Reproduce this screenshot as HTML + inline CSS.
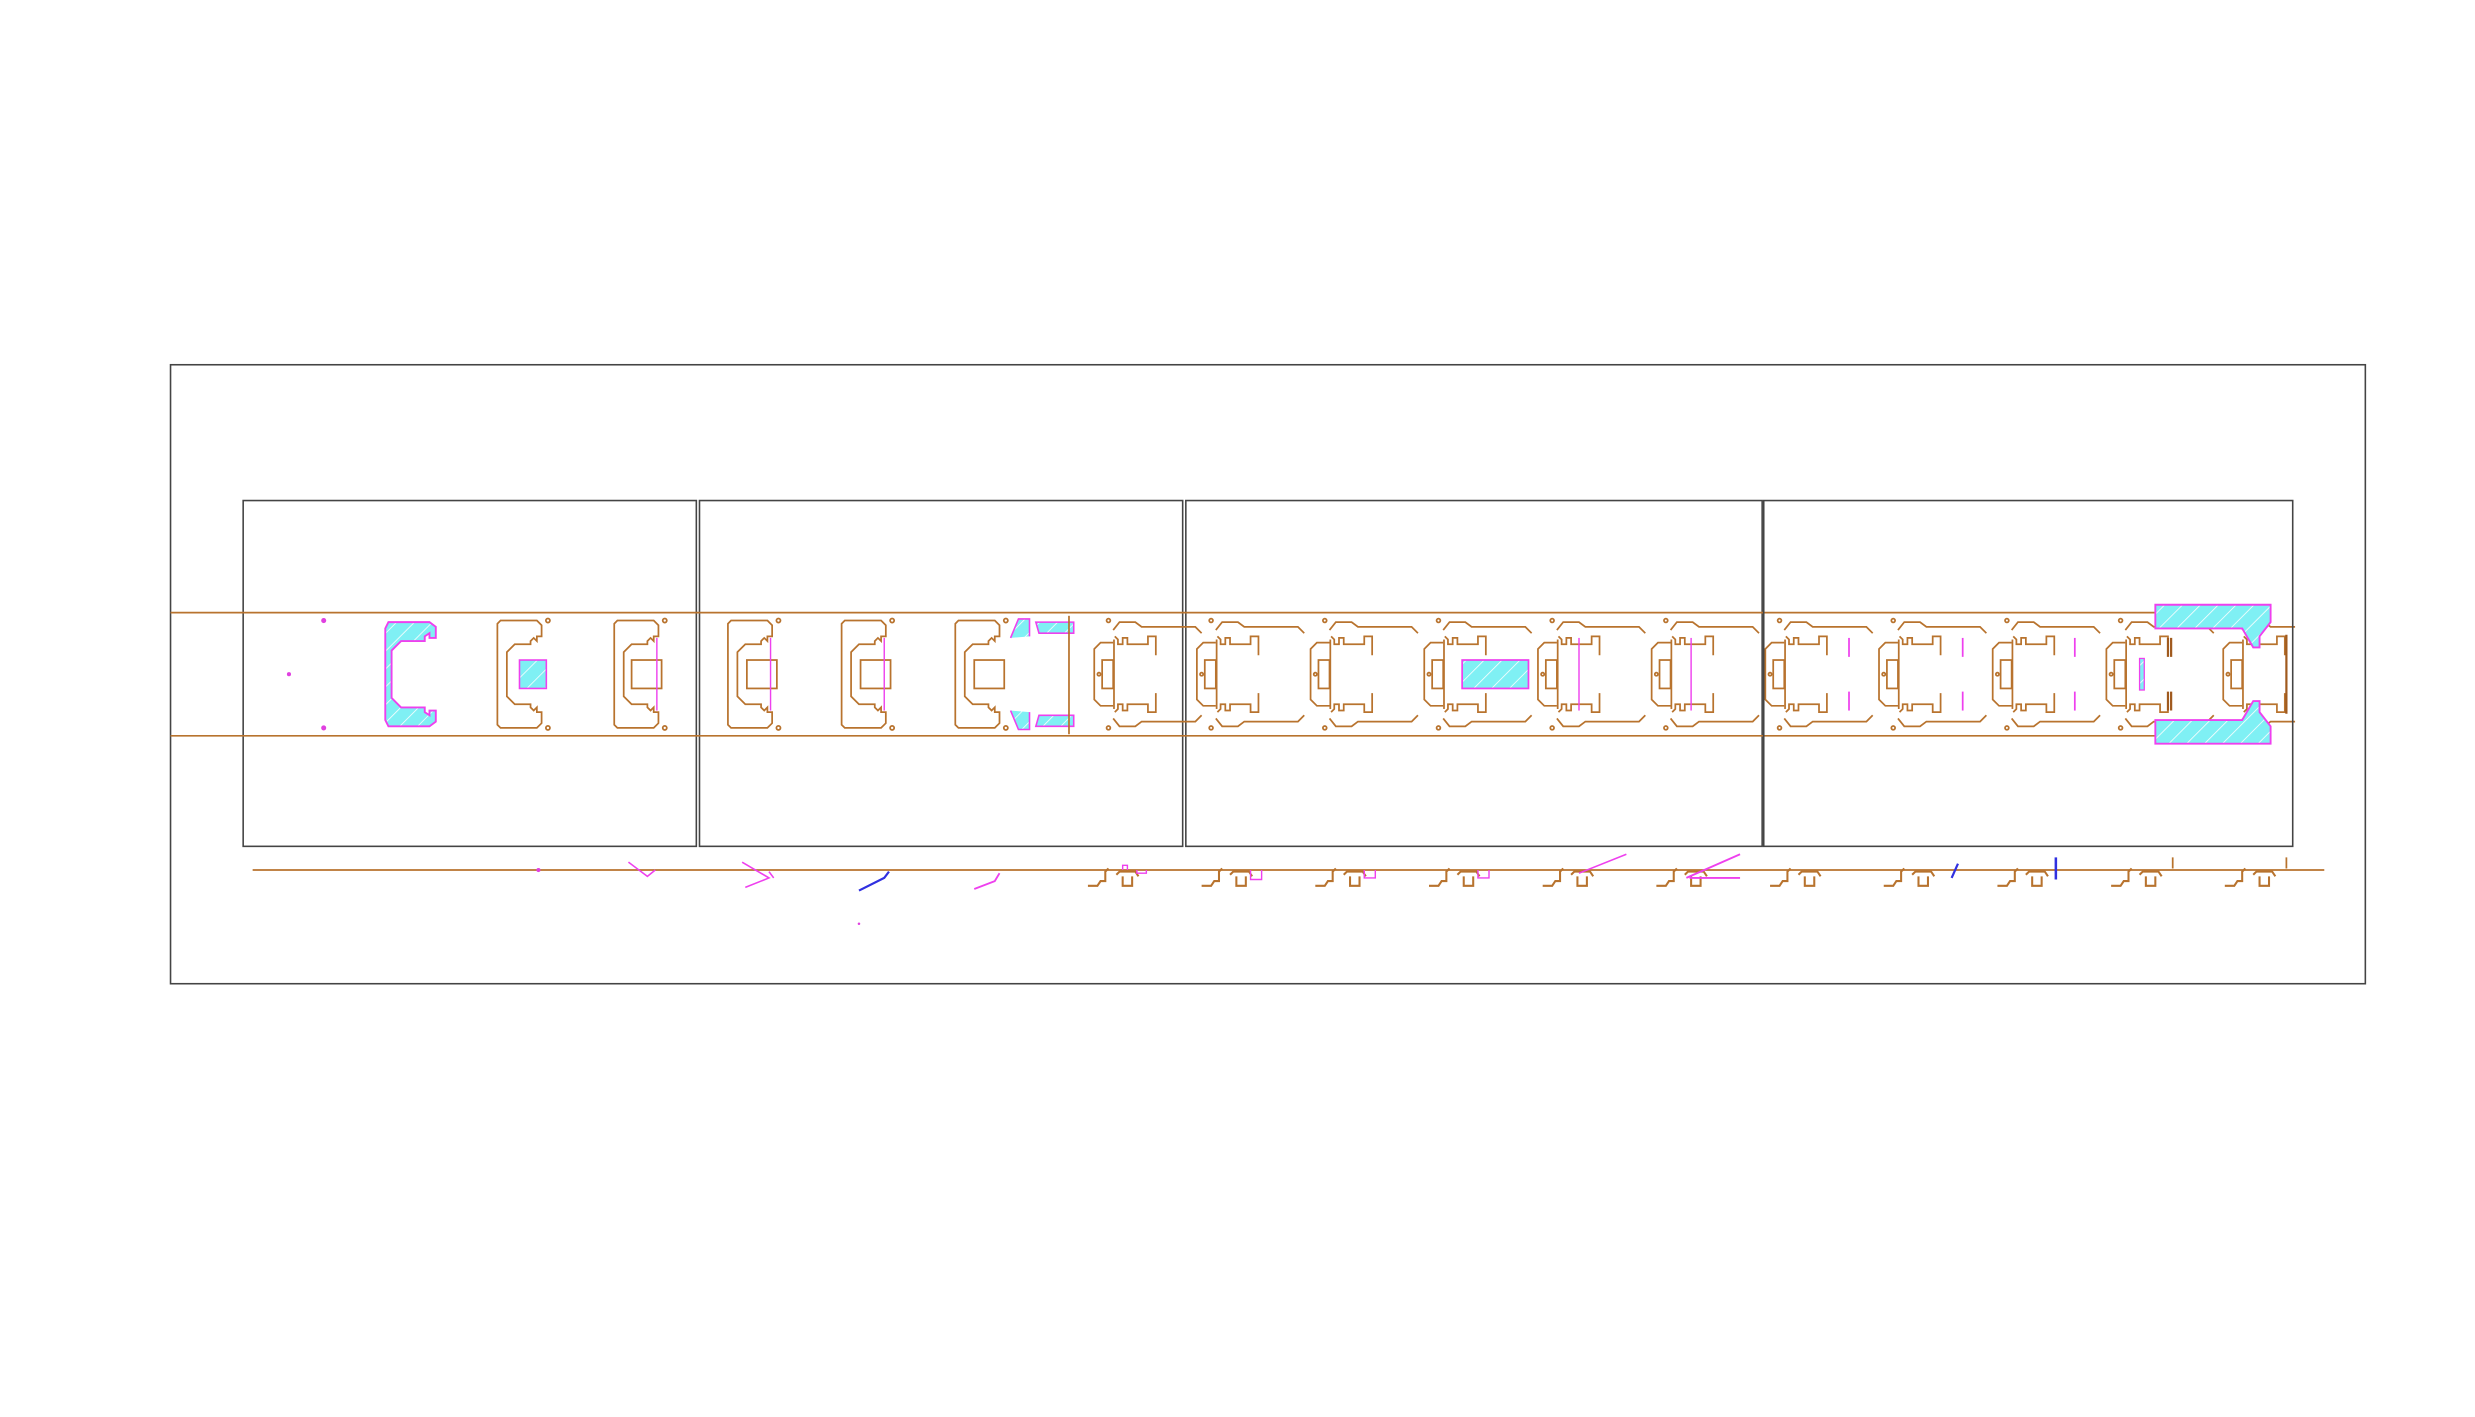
<!DOCTYPE html>
<html><head><meta charset="utf-8"><style>html,body{margin:0;padding:0;background:#fff;width:2475px;height:1417px;overflow:hidden}svg{display:block}</style></head>
<body>
<svg width="2475" height="1417" viewBox="0 0 2475 1417" xmlns="http://www.w3.org/2000/svg">
<defs>
<pattern id="h" width="8" height="8" patternUnits="userSpaceOnUse" patternTransform="rotate(45)"><rect width="8" height="8" fill="#7ff0f4"/><line x1="0" y1="0" x2="0" y2="8" stroke="#fff" stroke-width="1"/></pattern>
<g id="uA" fill="none" stroke="#b8732e" stroke-width="1.1">
<path d="M-13,-34 H10 L13,-31 V-24 H10 V-21 L8,-23 L6,-21 V-19 H-4 L-9,-14 V14 L-4,19 H6 V21 L8,23 L10,21 V24 H13 V31 L10,34 H-13 L-15,32 V-32 Z"/>
<circle cx="17" cy="-34" r="1.3"/><circle cx="17" cy="34" r="1.3"/>
</g>
<g id="uB" fill="none" stroke="#b8732e" stroke-width="1.1">
<path d="M0,-20 H-8 L-12,-16 V16 L-8,20 H0"/>
<rect x="-7" y="-9" width="7" height="18"/>
<path d="M0,-28 L4,-33 H14 L18,-30 H52 L56,-26 M0,28 L4,33 H14 L18,30 H52 L56,26"/>
<path d="M1,-24 L3,-22 V-19 H6 V-23 H9 V-19 H22 V-24 H27 V-12 M1,24 L3,22 V19 H6 V23 H9 V19 H22 V24 H27 V12"/>
<line x1="0.5" y1="-22" x2="0.5" y2="22"/>
<circle cx="-3" cy="-34" r="1.2"/><circle cx="-3" cy="34" r="1.2"/><circle cx="-9" cy="0" r="1"/>
</g>
<g id="pr" fill="none" stroke="#b8732e" stroke-width="1.3">
<path d="M-16,9 H-10 L-8,6 H-5 V0 L-3,-2"/><path d="M2,2 L4,0 H14 L16,3 M6,3 V9 H12 V3"/>
</g>
</defs>
<g transform="scale(1.579)">
<rect x="108" y="231" width="1390" height="392" fill="none" stroke="#444" stroke-width="1"/>
<rect x="154" y="317" width="287" height="219" fill="none" stroke="#444" stroke-width="1"/>
<rect x="443" y="317" width="306" height="219" fill="none" stroke="#444" stroke-width="1"/>
<rect x="751" y="317" width="365" height="219" fill="none" stroke="#444" stroke-width="1"/>
<line x1="108" y1="388" x2="1366" y2="388" stroke="#b8732e" stroke-width="1.1"/>
<line x1="108" y1="466" x2="1366" y2="466" stroke="#b8732e" stroke-width="1.1"/>
<line x1="160" y1="551" x2="1472" y2="551" stroke="#b8732e" stroke-width="1.1"/>
<circle cx="205" cy="393" r="1.6" fill="#e040e0"/><circle cx="205" cy="461" r="1.6" fill="#e040e0"/><circle cx="183" cy="427" r="1.3" fill="#e040e0"/>
<path d="M246,394 H272 L276,397 V404 H272 V401 L269,403 V406 H254 L248,412 V442 L254,448 H269 V451 L272,453 V450 H276 V457 L272,460 H246 L244,456 V398 Z" fill="url(#h)" stroke="#ee40ee" stroke-width="1.2"/>
<use href="#uA" x="330" y="427"/><rect x="329" y="418" width="17" height="18" fill="url(#h)" stroke="#ee40ee"/>
<use href="#uA" x="404" y="427"/><rect x="400" y="418" width="19" height="18" fill="none" stroke="#b8732e" stroke-width="1.1"/><line x1="416" y1="404" x2="416" y2="450" stroke="#ee40ee" stroke-width="0.9"/>
<use href="#uA" x="476" y="427"/><rect x="473" y="418" width="19" height="18" fill="none" stroke="#b8732e" stroke-width="1.1"/><line x1="488" y1="404" x2="488" y2="450" stroke="#ee40ee" stroke-width="0.9"/>
<use href="#uA" x="548" y="427"/><rect x="545" y="418" width="19" height="18" fill="none" stroke="#b8732e" stroke-width="1.1"/><line x1="560" y1="404" x2="560" y2="450" stroke="#ee40ee" stroke-width="0.9"/>
<use href="#uA" x="620" y="427"/><rect x="617" y="418" width="19" height="18" fill="none" stroke="#b8732e" stroke-width="1.1"/>
<path d="M640,404 L645,392 H652 V403 M656,394 H680 V401 H658 Z" fill="url(#h)" stroke="#ee40ee" stroke-width="1"/>
<path d="M640,450 L645,462 H652 V451 M656,460 H680 V453 H658 Z" fill="url(#h)" stroke="#ee40ee" stroke-width="1"/>
<path d="M677,390 V465" stroke="#b8732e" stroke-width="1.1"/>
<use href="#uB" x="705" y="427"/><use href="#uB" x="770" y="427"/><use href="#uB" x="842" y="427"/>
<use href="#uB" x="914" y="427"/><use href="#uB" x="986" y="427"/><use href="#uB" x="1058" y="427"/>
<use href="#uB" x="1130" y="427"/><use href="#uB" x="1202" y="427"/><use href="#uB" x="1274" y="427"/><use href="#uB" x="1346" y="427"/><use href="#uB" x="1420" y="427"/>
<rect x="1453.5" y="392" width="30" height="70" fill="#fff"/>
<rect x="1117" y="317" width="335" height="219" fill="none" stroke="#444" stroke-width="1"/>
<rect x="926" y="418" width="42" height="18" fill="url(#h)" stroke="#ee40ee" stroke-width="1.1"/>
<line x1="1000" y1="404" x2="1000" y2="450" stroke="#ee40ee" stroke-width="0.9"/>
<line x1="1071" y1="404" x2="1071" y2="450" stroke="#ee40ee" stroke-width="0.9"/>
<line x1="1171" y1="404" x2="1171" y2="416" stroke="#ee40ee" stroke-width="1.1"/><line x1="1171" y1="438" x2="1171" y2="450" stroke="#ee40ee" stroke-width="1.1"/>
<line x1="1243" y1="404" x2="1243" y2="416" stroke="#ee40ee" stroke-width="1.1"/><line x1="1243" y1="438" x2="1243" y2="450" stroke="#ee40ee" stroke-width="1.1"/>
<line x1="1314" y1="404" x2="1314" y2="416" stroke="#ee40ee" stroke-width="1.1"/><line x1="1314" y1="438" x2="1314" y2="450" stroke="#ee40ee" stroke-width="1.1"/>
<rect x="1355" y="417" width="3" height="20" fill="url(#h)" stroke="#ee40ee" stroke-width="0.8"/>
<path d="M1365,383 H1438 V394 L1431,403 V410 H1427 L1420,398 H1365 Z" fill="url(#h)" stroke="#ee40ee" stroke-width="1.2"/>
<path d="M1365,471 H1438 V460 L1431,451 V444 H1427 L1420,456 H1365 Z" fill="url(#h)" stroke="#ee40ee" stroke-width="1.2"/>
<path d="M1373,404 V416 M1373,438 V450 M1375,404 V416 M1375,438 V450 M1448,402 V452" stroke="#a05a1e" stroke-width="1.4"/>
<circle cx="341" cy="551" r="1.3" fill="#e040e0"/>
<path d="M398,546 L410,555 L415,551" fill="none" stroke="#ee40ee" stroke-width="1"/>
<path d="M470,546 L487,556 L472,562 M487,552 L490,556" fill="none" stroke="#ee40ee" stroke-width="1"/>
<path d="M544,564 L560,556 L563,552" fill="none" stroke="#3030e0" stroke-width="1.4"/><circle cx="544" cy="585" r="0.8" fill="#e040e0"/>
<path d="M617,563 L630,558 L633,553" fill="none" stroke="#ee40ee" stroke-width="1.2"/>
<use href="#pr" x="705" y="552"/><use href="#pr" x="777" y="552"/><use href="#pr" x="849" y="552"/><use href="#pr" x="921" y="552"/><use href="#pr" x="993" y="552"/><use href="#pr" x="1065" y="552"/><use href="#pr" x="1137" y="552"/><use href="#pr" x="1209" y="552"/><use href="#pr" x="1281" y="552"/><use href="#pr" x="1353" y="552"/><use href="#pr" x="1425" y="552"/>
<path d="M711,551 V548 H714 V551 M720,551 V553 H726 V551" fill="none" stroke="#ee40ee" stroke-width="0.9"/>
<path d="M792,551 V557 H799 V551" fill="none" stroke="#ee40ee" stroke-width="0.9"/>
<path d="M864,551 V556 H871 V551" fill="none" stroke="#ee40ee" stroke-width="0.9"/>
<path d="M936,551 V556 H943 V551" fill="none" stroke="#ee40ee" stroke-width="0.9"/>
<path d="M1000,553 L1030,541" fill="none" stroke="#ee40ee" stroke-width="1"/>
<path d="M1068,556 L1102,541 M1070,556 H1102" fill="none" stroke="#ee40ee" stroke-width="1.2"/>
<path d="M1236,556 L1240,547" fill="none" stroke="#3030e0" stroke-width="1.4"/>
<path d="M1302,557 V543" fill="none" stroke="#3030e0" stroke-width="1.6"/>
<path d="M1376,543 V550 M1448,543 V550" fill="none" stroke="#b8732e" stroke-width="1.1"/>
</g>
</svg>
</body></html>
